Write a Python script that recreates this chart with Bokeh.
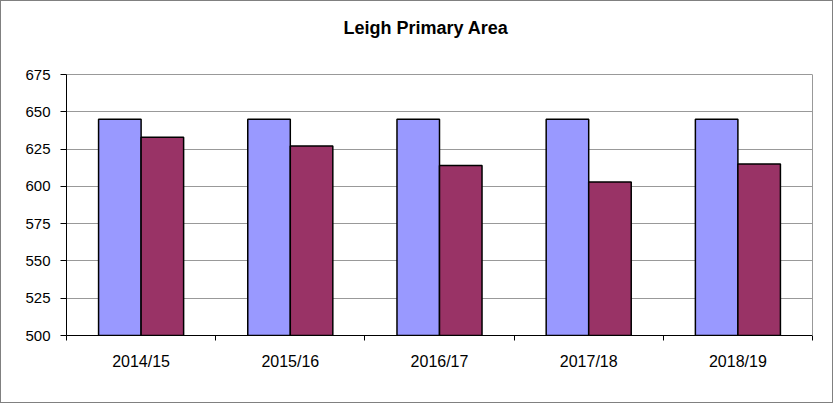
from bokeh.plotting import figure
from bokeh.models import Range1d, FixedTicker, ColumnDataSource, Label, LinearAxis
from bokeh.transform import dodge
from bokeh.embed import file_html
from bokeh.resources import INLINE

categories = ["2014/15", "2015/16", "2016/17", "2017/18", "2018/19"]
series_a = [645, 645, 645, 645, 645]
series_b = [633, 627, 614, 603, 615]
y_ticks = [500, 525, 550, 575, 600, 625, 650, 675]
title_text = "Leigh Primary Area"

FONT = "Liberation Sans"
BAR_W = 0.285

# layout: plot area spans y_ticks over 261 px; the frame is extended upward so
# that the title can sit inside it, above the plot area
PLOT_H = 261.0
TOP_SPACE = 73.0
px_per_unit = PLOT_H / (y_ticks[-1] - y_ticks[0])
y_end = y_ticks[-1] + TOP_SPACE / px_per_unit

xc = [i + 0.5 for i in range(len(categories))]
src = ColumnDataSource(dict(x=xc, a=series_a, b=series_b, cat=categories))

p = figure(width=833, height=403, output_backend="svg", toolbar_location=None,
           x_range=Range1d(0, len(categories)), y_range=Range1d(y_ticks[0], y_end),
           min_border_left=65, min_border_right=22, min_border_top=0, min_border_bottom=69,
           styles={"position": "absolute", "left": "0px", "top": "0px",
                   "border": "1px solid #808080"})

p.vbar(x=dodge("x", -BAR_W / 2, range=p.x_range), top="a", bottom=y_ticks[0], width=BAR_W,
       source=src, fill_color="#9999FF", line_color="black", line_width=1.5)
p.vbar(x=dodge("x", BAR_W / 2, range=p.x_range), top="b", bottom=y_ticks[0], width=BAR_W,
       source=src, fill_color="#993366", line_color="black", line_width=1.5)

p.outline_line_color = None
p.background_fill_color = "white"
p.border_fill_color = "white"
p.xgrid.grid_line_color = None
p.ygrid.grid_line_color = "#999999"
p.ygrid.grid_line_width = 1

p.yaxis.ticker = FixedTicker(ticks=y_ticks)
p.yaxis.bounds = (y_ticks[0], y_ticks[-1])
p.yaxis.axis_line_color = "black"
p.yaxis.major_tick_line_color = "black"
p.yaxis.major_tick_out = 6
p.yaxis.major_tick_in = 0
p.yaxis.minor_tick_line_color = None
p.yaxis.major_label_text_font = FONT
p.yaxis.major_label_text_font_size = "15px"
p.yaxis.major_label_text_color = "black"
p.yaxis.major_label_standoff = 10

# right border of the plot area
right = LinearAxis(ticker=FixedTicker(ticks=[], minor_ticks=[]), bounds=(y_ticks[0], y_ticks[-1]),
                   axis_line_color="#999999", major_tick_line_color=None,
                   minor_tick_line_color=None, major_label_text_color=None, axis_label=None)
p.add_layout(right, "right")

p.xaxis.ticker = FixedTicker(ticks=xc, minor_ticks=list(range(len(categories) + 1)))
p.xaxis.major_label_overrides = {x: c for x, c in zip(xc, categories)}
p.xaxis.axis_line_color = "black"
p.xaxis.major_tick_line_color = None
p.xaxis.major_tick_out = 0
p.xaxis.major_tick_in = 0
p.xaxis.minor_tick_line_color = "black"
p.xaxis.minor_tick_out = 5
p.xaxis.minor_tick_in = 0
p.xaxis.major_label_text_font = FONT
p.xaxis.major_label_text_font_size = "16px"
p.xaxis.major_label_text_color = "black"
p.xaxis.major_label_standoff = 12

title = Label(x=len(categories) / 2, y=y_ticks[-1], x_offset=-13.5, y_offset=47,
              text=title_text, text_font=FONT, text_font_size="18px",
              text_font_style="bold", text_align="center", text_baseline="middle",
              text_color="black")
p.add_layout(title)

open("out.html", "w").write(file_html(p, INLINE))
